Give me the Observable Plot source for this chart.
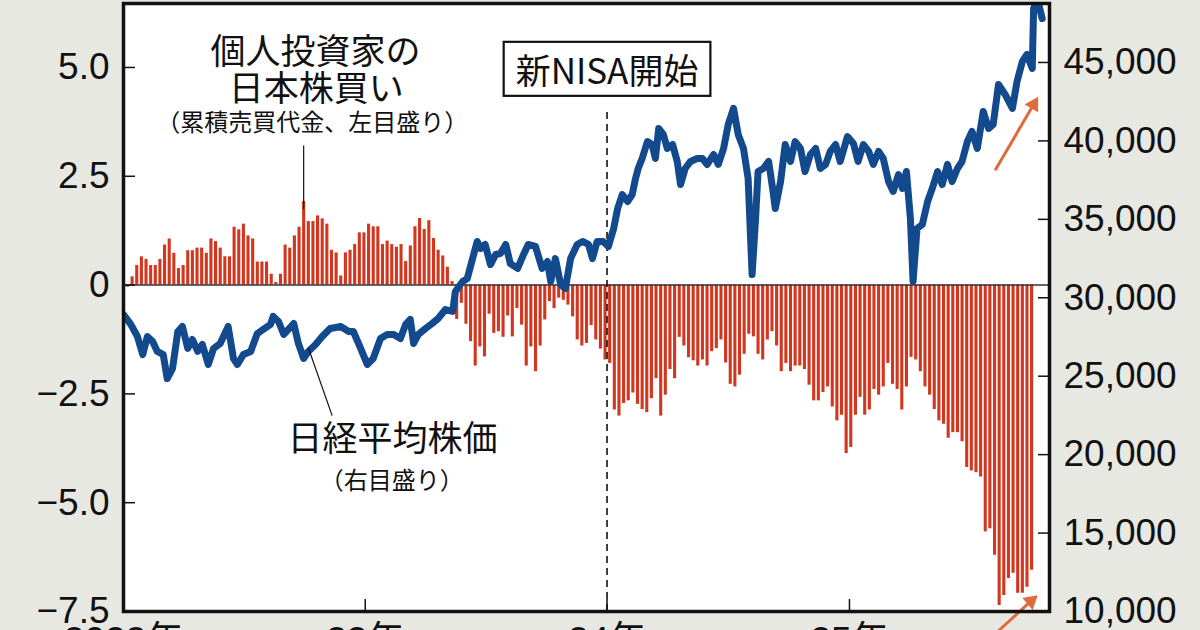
<!DOCTYPE html>
<html><head><meta charset="utf-8">
<script src="https://cdn.jsdelivr.net/npm/d3@7"></script>
<script src="https://cdn.jsdelivr.net/npm/@observablehq/plot@0.6"></script>
<style>
html,body{margin:0;padding:0;background:#e8e8e2;width:1200px;height:630px;overflow:hidden;}
#chart{position:absolute;left:0;top:0;}
</style></head><body><div id="chart"></div>
<script>
// ---- data ----
// Weekly cumulative net buying of Japanese stocks by individual investors (trillion yen), weeks from 2022-01-07
const firstWeek = "2022-01-07";
const netBuy = [
 -0.05, 0.19, 0.45, 0.65, 0.59, 0.45, 0.45, 0.59, 0.92, 1.06,
 0.73, 0.38, 0.45, 0.79, 0.79, 0.85, 0.85, 0.73, 1.06, 1.00,
 0.85, 0.65, 0.65, 1.33, 1.27, 1.40, 1.13, 1.06, 0.53, 0.53,
 0.53, 0.25, 0.06, 0.25, 0.92, 0.85, 1.13, 1.33, 1.92, 1.46,
 1.46, 1.59, 1.52, 1.40,
 0.80, 0.74, 0.21, 0.74, 0.80, 0.93, 1.20, 1.20, 1.40, 1.34,
 1.34, 0.93, 1.01, 0.93, 0.87, 0.93, 0.54, 0.90, 1.34, 1.53,
 1.28, 1.48, 1.07, 0.80, 0.67, 0.41, 0.08,
 -0.79, -0.42, -0.90, -1.30, -1.86, -1.42, -1.65, -0.67, -1.11, -1.07,
 -1.20, -0.71, -1.19, -0.54, -0.92, -1.86, -1.42, -1.99,
 -1.40, -0.80, -0.38, -0.54, -0.30, -0.35, -0.46, -0.73, -1.26, -1.40, -1.34,
 -0.93, -1.26, -1.47, -1.72, -1.80, -2.87, -3.01, -2.72, -2.66, -2.48,
 -2.74, -2.86, -2.93, -2.61, -2.15, -3.01, -2.53, -1.94, -2.15, -1.20,
 -1.40, -1.67, -1.74, -1.86, -1.72, -1.86, -1.53, -1.46, -1.26, -1.79,
 -2.28, -2.34, -2.07, -1.59, -1.13, -1.19, -1.59,
 -1.72, -1.26, -1.07, -1.40, -1.99, -1.80, -1.99, -1.86, -1.86, -1.94,
 -2.30, -2.66, -2.66, -2.47, -2.34, -2.80, -3.12, -2.99, -3.87, -3.73,
 -2.99, -2.58, -2.99, -2.87, -2.40, -2.53, -2.34, -1.80, -2.28, -2.40,
 -2.87, -2.34, -1.66, -1.72, -1.99, -2.34, -2.53, -2.86, -3.12, -3.20,
 -3.52, -3.39, -3.39,
 -3.60, -4.19, -4.27, -4.31, -4.41, -5.67, -5.60, -6.21, -7.36, -7.13,
 -6.74, -6.62, -7.08, -7.08, -6.94, -6.55
];
// Nikkei average: [days since 2022-01-01, yen]
const nikkeiStart = "2022-01-01";
const nikkei = [
 [0,28930],[11,28300],[21,27530],[29,26380],[36,27530],[44,27210],[51,26580],[60,26380],[66,24850],[74,25490],
 [82,27850],[89,28170],[97,26770],[104,27340],[112,26580],[119,27020],[128,25750],[136,26770],[146,27090],[158,28170],
 [166,26130],[172,25750],[181,26380],[192,26580],[202,27720],[211,27980],[222,28300],[226,28810],[234,28490],[242,27660],
 [249,27980],[257,28360],[264,27090],[272,26130],[279,26580],[290,27020],[300,27530],[312,28040],[328,28170],[340,27850],
 [347,27850],[358,26770],[368,25750],[377,26130],[388,27400],[398,27660],[408,27660],[418,27400],[426,28300],[433,28620],
 [438,27090],[445,27660],[456,28040],[466,28360],[475,28680],[486,29250],[497,29130],[501,30400],[512,31040],[519,31230],
 [527,32500],[534,33590],[539,33140],[546,33400],[554,32120],[562,32760],[569,32820],[577,33400],[584,32180],[595,31870],
 [604,32760],[611,33400],[622,33270],[632,31870],[640,32310],[645,31040],[652,32500],[660,30850],[667,30590],[675,32500],
 [685,33400],[693,33590],[702,33400],[708,32500],[715,33590],[724,33590],[732,33270],[740,34420],[746,35690],[753,36580],
 [761,36140],[768,36580],[773,37600],[777,38240],[783,38880],[791,39960],[798,39770],[803,38880],[808,40790],[815,40410],
 [821,39520],[829,39770],[836,38690],[841,37220],[848,38240],[856,38690],[866,38880],[874,38880],[881,38500],[891,39130],
 [898,38500],[906,39520],[913,41050],[921,42070],[928,40410],[936,39520],[943,37600],[949,31480],[954,34860],[958,38050],
 [966,38240],[974,38690],[980,36970],[984,35690],[992,37410],[999,39770],[1007,38690],[1014,39960],[1022,39520],[1029,38050],
 [1037,39130],[1045,39520],[1052,38240],[1060,38500],[1067,39330],[1075,39770],[1082,38690],[1093,40280],[1102,39840],[1109,38690],
 [1117,39770],[1125,39330],[1132,38500],[1140,39330],[1147,38880],[1155,37410],[1162,36780],[1170,37860],[1176,36970],[1182,38050],
 [1188,35050],[1192,31040],[1198,34420],[1206,34670],[1214,36140],[1221,36970],[1229,38050],[1236,37220],[1244,38500],[1251,37410],
 [1259,38240],[1266,38690],[1274,39960],[1281,40600],[1289,39520],[1298,41880],[1306,40790],[1313,41050],[1321,43600],[1331,42960],
 [1342,42070],[1349,43790],[1357,45060],[1364,45510],[1372,44620],[1374,48440],[1380,49000],[1387,47800]
];
const leftTicks = [-7.5, -5, -2.5, 0, 2.5, 5];
const rightTicks = [10000, 15000, 20000, 25000, 30000, 35000, 40000, 45000];
const yearTicks = ["2022-01-01", "2023-01-01", "2024-01-01", "2025-01-01"];
const yearLabels = ["2022年", "23年", "24年", "25年"];
const nisaDate = "2024-01-01";

// ---- scales ----
const L0 = -7.5, L1 = 6.47, R0 = 10000, R1 = 48760;
const toLeft = n => L0 + (n - R0) * (L1 - L0) / (R1 - R0);
const fromLeft = v => R0 + (v - L0) * (R1 - R0) / (L1 - L0);
const D = s => new Date(s + "T00:00:00Z");

const bars = netBuy.map((v, i) => ({date: d3.utcDay.offset(D(firstWeek), 7 * i), v}));
const line = nikkei.map(([d, n]) => ({date: d3.utcDay.offset(D(nikkeiStart), d), y: toLeft(n)}));
const yearDates = yearTicks.map(D);

const red = "#d2361e", blue = "#134a8e", orange = "#e06a3c";
const cjk = "'Noto Sans CJK JP', 'Noto Sans', sans-serif";
const num = "'Liberation Sans', Arial, 'Noto Sans CJK JP', sans-serif";

const fmtL = d => d === 0 ? "0" : d.toFixed(1).replace("-", "\u2212");
const fmtR = v => d3.format(",")(Math.round(fromLeft(v)));
const fmtX = d => yearLabels[yearDates.findIndex(t => +t === +d)];

const bigNotes = [
  {date: D("2022-10-18"), y: 5.33, t: "個人投資家の"},
  {date: D("2022-10-19"), y: 4.48, t: "日本株買い"},
  {date: D("2023-02-11"), y: -3.55, t: "日経平均株価"}
];
const smallNotes = [
  {date: D("2022-10-13"), y: 3.72, t: "（累積売買代金、左目盛り）"},
  {date: D("2023-02-10"), y: -4.52, t: "（右目盛り）"}
];
const leaders = [
  {x1: D("2022-09-30"), y1: 3.21, x2: D("2022-09-30"), y2: 1.75},
  {x1: D("2022-11-12"), y1: -3.0, x2: D("2022-10-07"), y2: -1.44}
];
// orange arrows: shaft from tail to head centre, head rotation in degrees
const arrows = [
  {x1: D("2025-08-09"), y1: 2.64, x2: D("2025-10-06"), y2: 4.15, rot: 30},
  {x1: D("2025-08-10"), y1: -8.0, x2: D("2025-10-02"), y2: -7.26, rot: 49}
];

const plot = Plot.plot({
  width: 1200, height: 630,
  marginLeft: 123, marginRight: 151, marginTop: 3, marginBottom: 19,
  style: {background: "#e8e8e2", fontFamily: num, color: "#111", overflow: "visible"},
  x: {type: "utc", domain: [D("2022-01-01"), D("2025-10-30")], axis: null},
  y: {domain: [L0, L1], axis: null},
  marks: [
    Plot.frame({fill: "white", stroke: null}),
    Plot.ruleX(bars, {x: "date", y1: 0, y2: "v", stroke: red, strokeWidth: 3.1}),
    Plot.ruleY([0], {stroke: "#333", strokeWidth: 1.5}),
    Plot.ruleX([D(nisaDate)], {y1: L0, y2: 4.0, stroke: "#111", strokeWidth: 1.6, strokeDasharray: "7,5"}),
    Plot.line(line, {x: "date", y: "y", stroke: blue, strokeWidth: 7, strokeLinejoin: "round", strokeLinecap: "round", clip: true}),
    Plot.link(leaders, {x1: "x1", y1: "y1", x2: "x2", y2: "y2", stroke: "#111", strokeWidth: 1.2}),
    Plot.link(arrows, {x1: "x1", y1: "y1", x2: "x2", y2: "y2", stroke: orange, strokeWidth: 3}),
    Plot.dot(arrows, {x: "x2", y: "y2", symbol: "triangle", r: 5.8, fill: orange, stroke: null, rotate: "rot"}),
    Plot.text(bigNotes, {x: "date", y: "y", text: "t", fontSize: 35, fontFamily: cjk, fill: "#111"}),
    Plot.text(smallNotes, {x: "date", y: "y", text: "t", fontSize: 24, fontFamily: cjk, fill: "#111"}),
    Plot.text([{date: D(nisaDate), y: 4.87, t: "新NISA開始"}], {x: "date", y: "y", text: "t", fontSize: 35, fontFamily: cjk, fill: "#111"}),
    // left axis
    Plot.axisY(leftTicks, {anchor: "left", tickSize: 0, tickPadding: 14, tickFormat: fmtL, fontSize: 37, label: null}),
    Plot.axisY(leftTicks, {anchor: "left", tickSize: 12, dx: 12, tickFormat: () => "", label: null, strokeWidth: 1.5}),
    // right axis
    Plot.axisY(rightTicks.map(toLeft), {anchor: "right", tickSize: 0, tickPadding: 14, tickFormat: fmtR, fontSize: 37, label: null}),
    Plot.axisY(rightTicks.map(toLeft), {anchor: "right", tickSize: 12, dx: -12, tickFormat: () => "", label: null, strokeWidth: 1.5}),
    // bottom axis
    Plot.axisX(yearDates, {anchor: "bottom", tickSize: 0, tickPadding: 15, tickFormat: fmtX, fontSize: 37, label: null}),
    Plot.axisX(yearDates, {anchor: "bottom", tickSize: 12, dy: -12, tickFormat: () => "", label: null, strokeWidth: 1.5}),
    Plot.frame({stroke: "#111", strokeWidth: 3.5})
  ]
});
document.getElementById("chart").append(plot);

// box around 新NISA開始
d3.select(plot).selectAll("text").filter(function () { return this.textContent === "新NISA開始"; }).each(function () {
  const b = this.getBBox();
  const cy = b.y + b.height / 2;
  const r = document.createElementNS("http://www.w3.org/2000/svg", "rect");
  r.setAttribute("x", b.x - 12);
  r.setAttribute("width", b.width + 24);
  r.setAttribute("y", cy - 27);
  r.setAttribute("height", 54);
  r.setAttribute("fill", "white");
  r.setAttribute("stroke", "#111");
  r.setAttribute("stroke-width", 2.2);
  const tr = this.getAttribute("transform");
  if (tr) r.setAttribute("transform", tr);
  this.parentNode.insertBefore(r, this);
});
</script>
</body></html>
